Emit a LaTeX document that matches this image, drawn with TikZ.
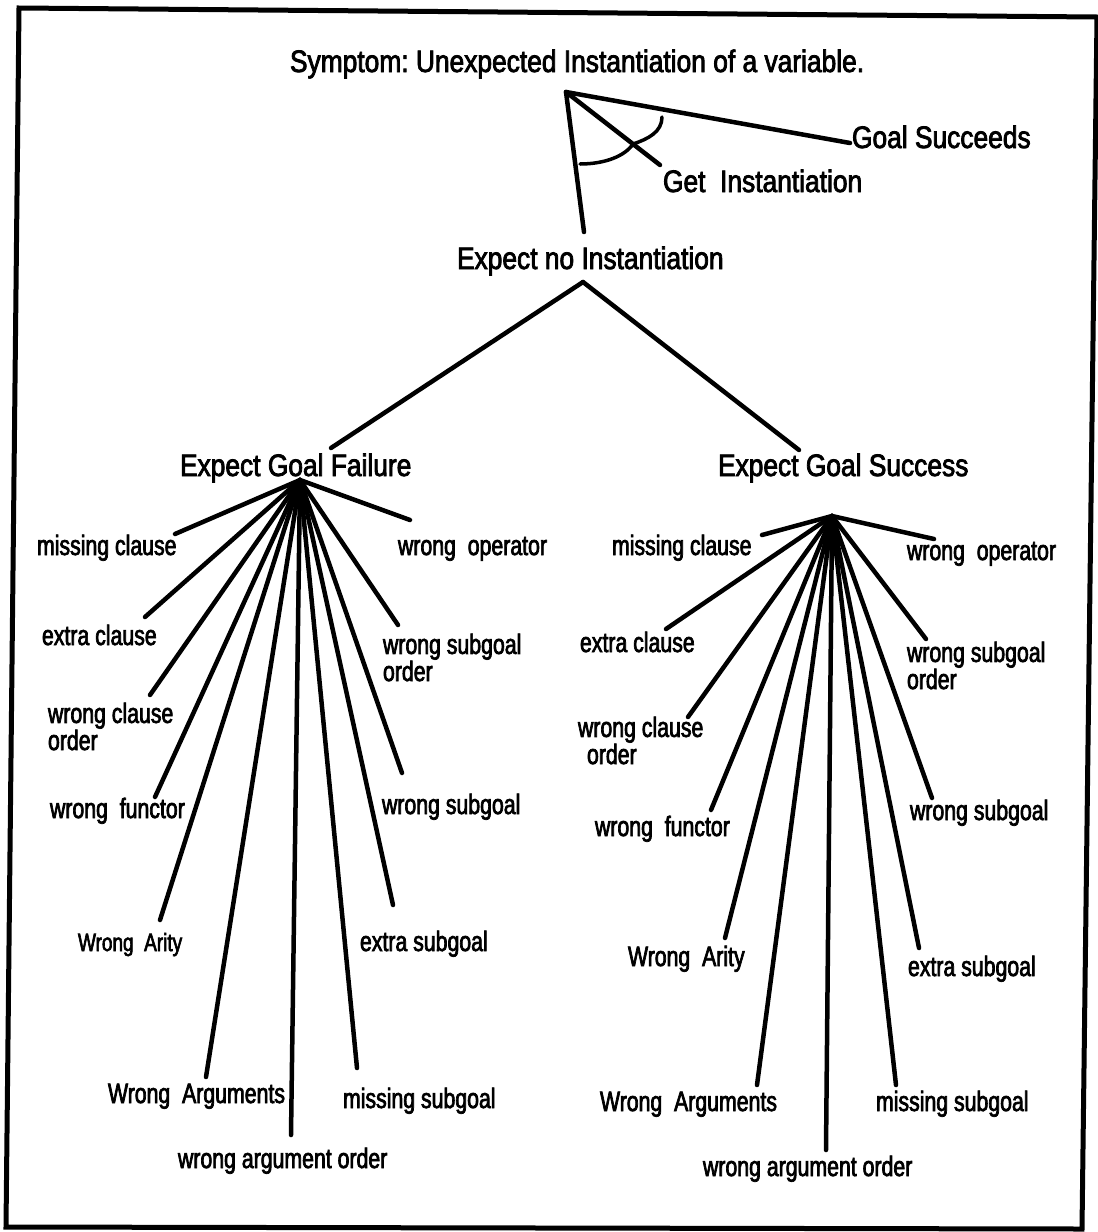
\documentclass[tikz,border=0pt]{standalone}
\usepackage{fontspec}
\setmainfont{Liberation Sans}[FakeStretch=0.85,FakeBold=2.5]
\newfontfamily\leaffont{Liberation Sans}[FakeStretch=0.76,FakeBold=2.5]
\frenchspacing
\begin{document}
\begin{tikzpicture}[x=1pt,y=-1pt,
  every node/.style={inner sep=0pt,outer sep=0pt},
  head/.style={anchor=base west,font=\fontsize{31}{36}\selectfont},
  leaf/.style={anchor=base west,align=left,font=\leaffont\fontsize{28}{26}\selectfont},
  branch/.style={line width=4.5pt,line cap=round},
  frame/.style={line width=5pt,line join=miter}]
\useasboundingbox (0,0) rectangle (1098,1232);

% outer frame
\draw[frame] (19,8) -- (1097,17) -- (1082,1229) -- (6,1227) -- cycle;

% ---------- top level ----------
\node[head] (sym) at (290,72) {Symptom: Unexpected Instantiation of a variable.};
\node[head] (gs)  at (852,148) {Goal Succeeds};
\node[head] (gi)  at (663,192) {Get\ \ Instantiation};
\node[head] (eni) at (457,269) {Expect no Instantiation};

\coordinate (root) at (566,92);
\coordinate (gs-end) at (850,143);
\coordinate (gi-end) at (660,165);
\coordinate (eni-end) at (584,232);
\draw[branch] (root) -- (gs-end);
\draw[branch] (root) -- (gi-end);
\draw[branch] (root) -- (eni-end);
% arc joining the alternatives
\draw[line width=3.5pt,line cap=round] (580,164) .. controls (605,164) and (625,156) .. (633,144)
  .. controls (648,139) and (662,132) .. (662,117);

% ---------- second level ----------
\node[head] (egf) at (180,476) {Expect Goal Failure};
\node[head] (egs) at (718,476) {Expect Goal Success};
\coordinate (mid) at (583,282);
\coordinate (egf-end) at (331,448);
\coordinate (egs-end) at (799,450);
\draw[branch] (mid) -- (egf-end);
\draw[branch] (mid) -- (egs-end);

% ---------- failure branch ----------
\coordinate (fa) at (300,480);
\node[leaf] (fa1)  at (37,555)   {missing clause};
\node[leaf] (fa2)  at (42,645)   {extra clause};
\node[leaf] (fa3)  at (48,750)   {wrong clause\\order};
\node[leaf] (fa4)  at (50,818)   {wrong\ \ functor};
\node[leaf,font=\leaffont\fontsize{25}{26}\selectfont] (fa5) at (78,951) {Wrong\ \ Arity};
\node[leaf] (fa6)  at (108,1103) {Wrong\ \ Arguments};
\node[leaf] (fa7)  at (178,1168) {wrong argument order};
\node[leaf] (fa8)  at (343,1108) {missing subgoal};
\node[leaf] (fa9)  at (360,951)  {extra subgoal};
\node[leaf] (fa10) at (382,814)  {wrong subgoal};
\node[leaf] (fa11) at (383,681)  {wrong subgoal\\order};
\node[leaf] (fa12) at (398,555)  {wrong\ \ operator};

\coordinate (fe1) at (175,534);
\coordinate (fe2) at (145,617);
\coordinate (fe3) at (150,695);
\coordinate (fe4) at (155,797);
\coordinate (fe5) at (160,920);
\coordinate (fe6) at (206,1077);
\coordinate (fe7) at (291,1135);
\coordinate (fe8) at (357,1068);
\coordinate (fe9) at (393,905);
\coordinate (fe10) at (402,773);
\coordinate (fe11) at (398,625);
\coordinate (fe12) at (410,520);
\foreach \i in {1,...,12} \draw[branch] (fa) -- (fe\i);

% ---------- success branch ----------
\coordinate (sa) at (832,516);
\node[leaf] (sa1)  at (612,555)  {missing clause};
\node[leaf] (sa2)  at (580,652)  {extra clause};
\node[leaf] (sa3)  at (578,764)  {wrong clause\\\hspace*{9pt}order};
\node[leaf] (sa4)  at (595,836)  {wrong\ \ functor};
\node[leaf] (sa5)  at (628,966)  {Wrong\ \ Arity};
\node[leaf] (sa6)  at (600,1111) {Wrong\ \ Arguments};
\node[leaf] (sa7)  at (703,1176) {wrong argument order};
\node[leaf] (sa8)  at (876,1111) {missing subgoal};
\node[leaf] (sa9)  at (908,976)  {extra subgoal};
\node[leaf] (sa10) at (910,820)  {wrong subgoal};
\node[leaf] (sa11) at (907,689)  {wrong subgoal\\order};
\node[leaf] (sa12) at (907,560)  {wrong\ \ operator};

\coordinate (se1) at (762,535);
\coordinate (se2) at (666,629);
\coordinate (se3) at (688,717);
\coordinate (se4) at (711,810);
\coordinate (se5) at (725,938);
\coordinate (se6) at (757,1085);
\coordinate (se7) at (826,1150);
\coordinate (se8) at (896,1085);
\coordinate (se9) at (919,948);
\coordinate (se10) at (932,798);
\coordinate (se11) at (926,639);
\coordinate (se12) at (934,539);
\foreach \i in {1,...,12} \draw[branch] (sa) -- (se\i);
\end{tikzpicture}
\end{document}
